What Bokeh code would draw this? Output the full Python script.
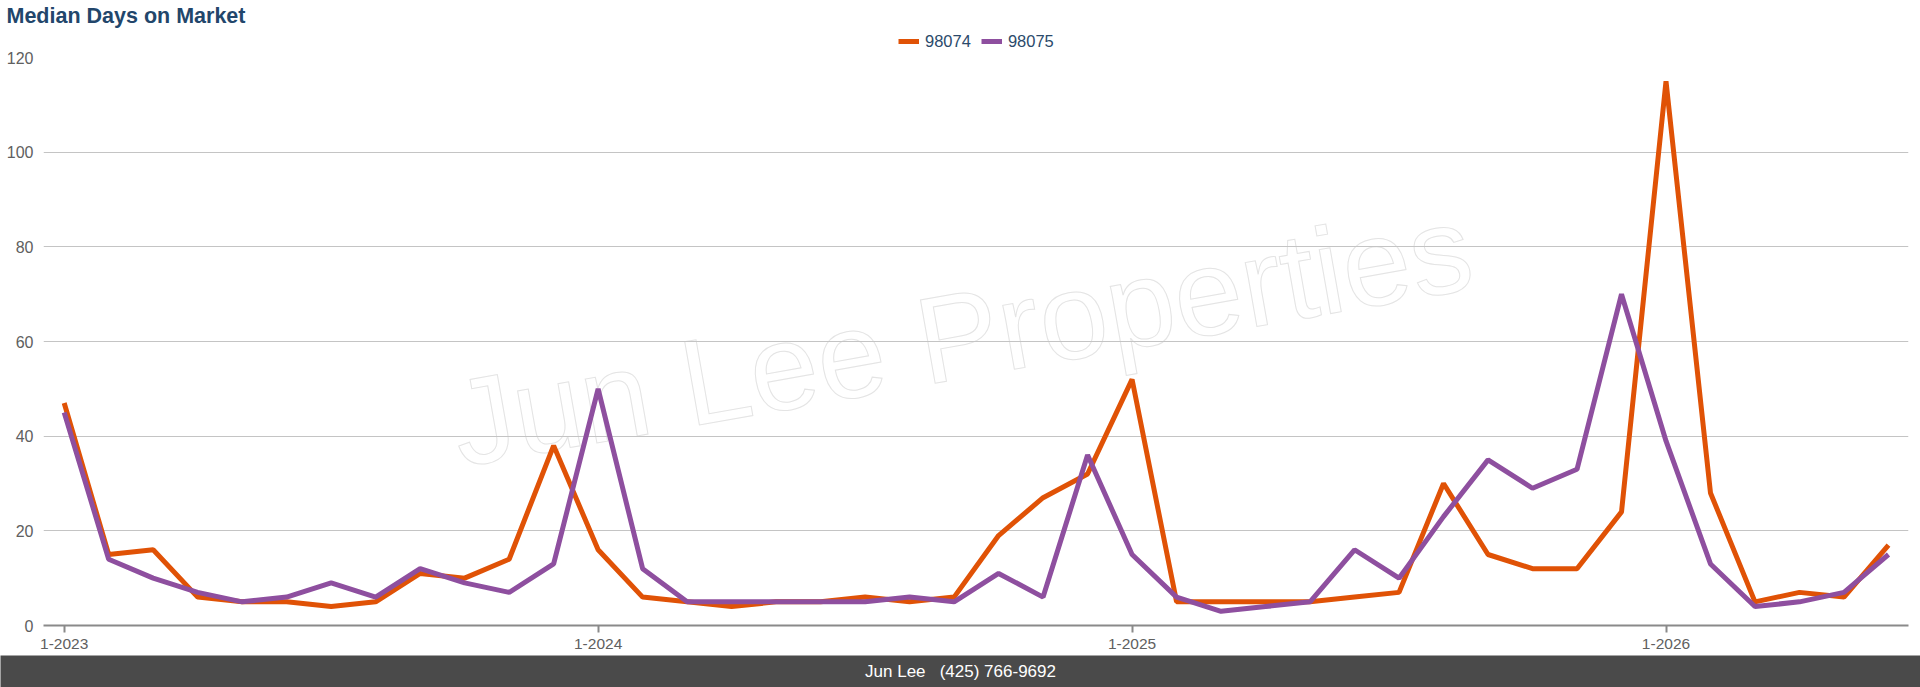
import math
from bokeh.plotting import figure
from bokeh.layouts import column
from bokeh.models import (ColumnDataSource, Range1d, FixedTicker, Legend, LegendItem, Label)
from bokeh.embed import file_html
from bokeh.resources import INLINE

# ---------------- data ----------------
months = [
    "1-2023", "2-2023", "3-2023", "4-2023", "5-2023", "6-2023", "7-2023", "8-2023", "9-2023", "10-2023", "11-2023", "12-2023",
    "1-2024", "2-2024", "3-2024", "4-2024", "5-2024", "6-2024", "7-2024", "8-2024", "9-2024", "10-2024", "11-2024", "12-2024",
    "1-2025", "2-2025", "3-2025", "4-2025", "5-2025", "6-2025", "7-2025", "8-2025", "9-2025", "10-2025", "11-2025", "12-2025",
    "1-2026", "2-2026", "3-2026", "4-2026", "5-2026", "6-2026",
]
series_names = ["98074", "98075"]
dom_98074 = [47, 15, 16, 6, 5, 5, 4, 5, 11, 10, 14, 38,
             16, 6, 5, 4, 5, 5, 6, 5, 6, 19, 27, 32,
             52, 5, 5, 5, 5, 6, 7, 30, 15, 12, 12, 24,
             115, 28, 5, 7, 6, 17]
dom_98075 = [45, 14, 10, 7, 5, 6, 9, 6, 12, 9, 7, 13,
             50, 12, 5, 5, 5, 5, 5, 6, 5, 11, 6, 36,
             15, 6, 3, 4, 5, 16, 10, 23, 35, 29, 33, 70,
             39, 13, 4, 5, 7, 15]
y_ticks = [0, 20, 40, 60, 80, 100, 120]
title_text = "Median Days on Market"
watermark_text = "Jun Lee Properties"
footer_text = "Jun Lee \u00a0 (425) 766-9692"

colors = ["#e05206", "#8e4f9f"]
FONT = "Liberation Sans"
LINE_W = 5

x_idx = list(range(len(months)))
src = ColumnDataSource(dict(x=x_idx, a=dom_98074, b=dom_98075))

W = 1920
HEADER_H = 49
FOOTER_H = 32
MAIN_H = 687 - HEADER_H - FOOTER_H

def no_align(fig):
    if "frame_align" in fig.properties():
        fig.frame_align = False

# ---------------- header: title + legend ----------------
h = figure(width=W, height=HEADER_H, output_backend="svg", toolbar_location=None,
           x_range=Range1d(0, 1), y_range=Range1d(0, 1), min_border=0,
           min_border_left=0, min_border_right=0, min_border_top=0, min_border_bottom=0,
           x_axis_type=None, y_axis_type=None)
no_align(h)
h.grid.visible = False
h.outline_line_color = None
h.background_fill_color = "white"
h.border_fill_color = "white"
h.add_layout(Label(x=6, y=HEADER_H - 15, x_units="screen", y_units="screen", text=title_text,
                   text_align="left", text_baseline="middle", text_font=FONT,
                   text_font_size="21.5px", text_font_style="bold", text_color="#22466b"))
nan = float("nan")
k1 = h.line(x=[nan], y=[nan], line_color=colors[0], line_width=LINE_W)
k2 = h.line(x=[nan], y=[nan], line_color=colors[1], line_width=LINE_W)
legend = Legend(items=[LegendItem(label=series_names[0], renderers=[k1]),
                       LegendItem(label=series_names[1], renderers=[k2])],
                orientation="horizontal", location=(898, -2),
                glyph_width=21, glyph_height=20, label_height=20, label_standoff=6, spacing=10,
                padding=0, margin=0, border_line_color=None, background_fill_alpha=0,
                label_text_font=FONT, label_text_font_size="16.5px", label_text_color="#2b4a6b")
h.add_layout(legend)

# ---------------- main figure ----------------
p = figure(width=W, height=MAIN_H, output_backend="svg", toolbar_location=None,
           x_range=Range1d(-0.465, len(months) - 1 + 0.45), y_range=Range1d(0, 120),
           min_border_left=43, min_border_right=12, min_border_top=8, min_border_bottom=30)
no_align(p)
p.outline_line_color = None
p.background_fill_color = "white"
p.border_fill_color = "white"

p.xgrid.visible = False
p.ygrid.grid_line_color = "#c4c4c4"
p.ygrid.grid_line_width = 1
p.yaxis.ticker = FixedTicker(ticks=y_ticks)
p.yaxis.axis_line_color = None
p.yaxis.major_tick_line_color = None
p.yaxis.major_tick_out = 0
p.yaxis.major_tick_in = 0
p.yaxis.minor_tick_line_color = None
p.yaxis.major_label_standoff = 10
p.yaxis.major_label_text_font = FONT
p.yaxis.major_label_text_font_size = "16px"
p.yaxis.major_label_text_color = "#606060"

year_ticks = [i for i, m in enumerate(months) if m.startswith("1-")]
p.xaxis.ticker = FixedTicker(ticks=year_ticks)
p.xaxis.major_label_overrides = {i: months[i] for i in year_ticks}
p.xaxis.axis_line_color = "#8a8a8a"
p.xaxis.axis_line_width = 2
p.xaxis.major_tick_line_color = "#8a8a8a"
p.xaxis.major_tick_line_width = 2
p.xaxis.major_tick_in = 0
p.xaxis.major_tick_out = 7
p.xaxis.minor_tick_line_color = None
p.xaxis.major_label_standoff = 6
p.xaxis.major_label_text_font = FONT
p.xaxis.major_label_text_font_size = "15.5px"
p.xaxis.major_label_text_color = "#606060"

# watermark (behind grid)
wm_kwargs = dict(x=918, y=290, x_units="screen", y_units="screen", text=watermark_text,
                 angle=math.radians(10), text_align="center", text_baseline="middle",
                 text_font=FONT, text_font_size="123px", level="image")
if "text_outline_color" in Label.properties():
    wm = Label(text_color="white", text_outline_color="#e4e4e4", **wm_kwargs)
else:
    wm = Label(text_color="#f4f4f4", **wm_kwargs)
p.add_layout(wm)

r1 = p.line("x", "a", source=src, line_color=colors[0], line_width=LINE_W)
r2 = p.line("x", "b", source=src, line_color=colors[1], line_width=LINE_W)

# ---------------- footer ----------------
f = figure(width=W, height=FOOTER_H, output_backend="svg", toolbar_location=None,
           x_range=Range1d(0, 1), y_range=Range1d(0, 1), min_border=0,
           min_border_left=0, min_border_right=0, min_border_top=0, min_border_bottom=0,
           x_axis_type=None, y_axis_type=None)
no_align(f)
f.grid.visible = False
f.outline_line_color = None
f.background_fill_color = "#4a4a4a"
f.border_fill_color = "#4a4a4a"
f.add_layout(Label(x=0.5, y=0.5, text=footer_text, text_align="center", text_baseline="middle",
                   text_font=FONT, text_font_size="17px", text_color="white"))

layout = column(h, p, f, spacing=0)

open("out.html", "w").write(file_html(layout, INLINE))
